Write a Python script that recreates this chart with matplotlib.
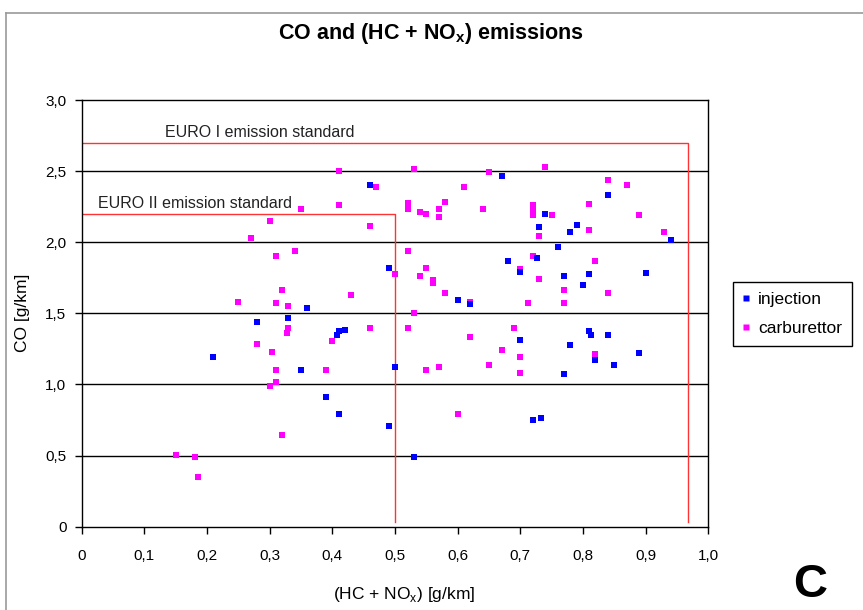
import matplotlib
matplotlib.use('Agg')
import matplotlib.pyplot as plt
from matplotlib.lines import Line2D

plt.rcParams['font.family'] = ['Liberation Sans', 'DejaVu Sans']
plt.rcParams['mathtext.fontset'] = 'custom'
plt.rcParams['mathtext.rm'] = 'Liberation Sans'
plt.rcParams['mathtext.bf'] = 'Liberation Sans:bold'

# ── data ───────────────────────────────────────────────────
inj_x = [0.46, 0.49, 0.36, 0.33, 0.28, 0.41, 0.407, 0.42, 0.21, 0.35, 0.50,
         0.39, 0.41, 0.49, 0.67, 0.84, 0.74, 0.73, 0.79, 0.78, 0.94, 0.76,
         0.68, 0.726, 0.70, 0.77, 0.81, 0.90, 0.80, 0.60, 0.62, 0.70, 0.78,
         0.81, 0.813, 0.84, 0.82, 0.85, 0.89, 0.77, 0.72, 0.733, 0.53]
inj_y = [2.40, 1.82, 1.54, 1.47, 1.44, 1.375, 1.35, 1.38, 1.19, 1.10, 1.125,
         0.915, 0.795, 0.705, 2.465, 2.33, 2.20, 2.105, 2.12, 2.075, 2.015, 1.97,
         1.865, 1.89, 1.79, 1.76, 1.775, 1.785, 1.70, 1.595, 1.565, 1.31, 1.28,
         1.375, 1.345, 1.345, 1.17, 1.135, 1.22, 1.075, 0.75, 0.765, 0.49]

carb_x = [0.41, 0.47, 0.41, 0.35, 0.30, 0.46, 0.27, 0.34, 0.31, 0.50, 0.32,
          0.43, 0.25, 0.31, 0.33, 0.33, 0.328, 0.46, 0.40, 0.28, 0.303, 0.31,
          0.39, 0.31, 0.30, 0.32, 0.15, 0.18, 0.186, 0.53, 0.65, 0.74, 0.84,
          0.87, 0.61, 0.58, 0.52, 0.52, 0.54, 0.55, 0.57, 0.57, 0.64, 0.72,
          0.72, 0.72, 0.75, 0.73, 0.81, 0.81, 0.89, 0.93, 0.52, 0.55, 0.54,
          0.56, 0.56, 0.58, 0.72, 0.82, 0.70, 0.73, 0.77, 0.84, 0.62, 0.713,
          0.77, 0.53, 0.52, 0.62, 0.69, 0.67, 0.70, 0.70, 0.55, 0.57, 0.65,
          0.82, 0.60]
carb_y = [2.50, 2.385, 2.26, 2.235, 2.15, 2.115, 2.03, 1.94, 1.905, 1.78, 1.665,
          1.63, 1.58, 1.57, 1.55, 1.40, 1.365, 1.40, 1.305, 1.285, 1.23, 1.10,
          1.10, 1.02, 0.99, 0.645, 0.505, 0.49, 0.35, 2.515, 2.495, 2.53, 2.44,
          2.405, 2.385, 2.285, 2.275, 2.235, 2.21, 2.20, 2.235, 2.175, 2.235, 2.26,
          2.23, 2.195, 2.195, 2.045, 2.27, 2.085, 2.195, 2.075, 1.94, 1.82, 1.765,
          1.735, 1.71, 1.64, 1.905, 1.865, 1.815, 1.745, 1.665, 1.64, 1.58, 1.57,
          1.57, 1.50, 1.395, 1.335, 1.395, 1.245, 1.19, 1.08, 1.10, 1.125, 1.135,
          1.215, 0.795]

# emission limits: (HC+NOx) limit, CO limit
euro1 = (0.967, 2.70)
euro2 = (0.50, 2.20)

x_ticks = [i / 10 for i in range(11)]
y_ticks = [i / 2 for i in range(7)]


def _fmt(v):
    s = f'{v:.1f}'.replace('.', ',')
    return '0' if v == 0 else s


fig = plt.figure(figsize=(8.63, 6.10), dpi=100)
ax = fig.add_axes([0.0947, 0.1366, 0.726, 0.6994])

# figure frame (cropped grey border)
fig.add_artist(Line2D([0.007, 0.007], [0, 0.978], color='#999999', lw=1.2))
fig.add_artist(Line2D([0.007, 1], [0.978, 0.978], color='#999999', lw=1.2))

for yv in y_ticks[1:-1]:
    ax.axhline(yv, color='black', lw=1.0, zorder=1)

# standards
for (lx, ly) in (euro1, euro2):
    ax.plot([0, lx, lx], [ly, ly, 0.03], color='#ff3333', lw=1.0, zorder=2)
ax.text(0.133, 2.74, 'EURO I emission standard', fontsize=11.5, color='#222222')
ax.text(0.026, 2.24, 'EURO II emission standard', fontsize=11.5, color='#222222')

ax.scatter(carb_x, carb_y, marker='s', s=22, color='#ff00ff', linewidths=0, zorder=3)
ax.scatter(inj_x, inj_y, marker='s', s=22, color='#0000ff', linewidths=0, zorder=3)

ax.set_xlim(0, 1.0)
ax.set_ylim(0, 3.0)
ax.set_xticks(x_ticks)
ax.set_xticklabels([_fmt(v) for v in x_ticks])
ax.set_yticks(y_ticks)
ax.set_yticklabels([_fmt(v) for v in y_ticks])
ax.tick_params(direction='out', length=5, width=1, labelsize=11, colors='black')
ax.tick_params(axis='x', pad=11)
ax.tick_params(axis='y', pad=6)
for sp in ax.spines.values():
    sp.set_color('black')
    sp.set_linewidth(1.0)

fig.text(0.5, 1 - 33 / 610, r'CO and (HC + NO$_\mathbf{x}$) emissions',
         ha='center', va='center', fontsize=15.5, fontweight='bold')
fig.text(404 / 863, 1 - 595 / 610, r'(HC + NO$_\mathregular{x}$) [g/km]',
         ha='center', va='center', fontsize=12.5)
fig.text(22 / 863, 1 - 313 / 610, 'CO [g/km]', rotation=90,
         ha='center', va='center', fontsize=12.5)
fig.text(810 / 863, 1 - 585 / 610, 'C', ha='center', va='center',
         fontsize=34, fontweight='bold')

handles = [Line2D([], [], ls='', marker='s', ms=4.5, mfc='#0000ff', mec='none'),
           Line2D([], [], ls='', marker='s', ms=4.5, mfc='#ff00ff', mec='none')]
leg = fig.legend(handles, ['injection', 'carburettor'], loc='center left',
                 bbox_to_anchor=(733 / 863, 1 - 314 / 610), fontsize=12.5,
                 fancybox=False, framealpha=1, edgecolor='black',
                 handlelength=0.4, handletextpad=0.5, labelspacing=0.8,
                 borderpad=0.55, borderaxespad=0)
leg.get_frame().set_linewidth(1.0)

fig.savefig('out.png', dpi=100)
